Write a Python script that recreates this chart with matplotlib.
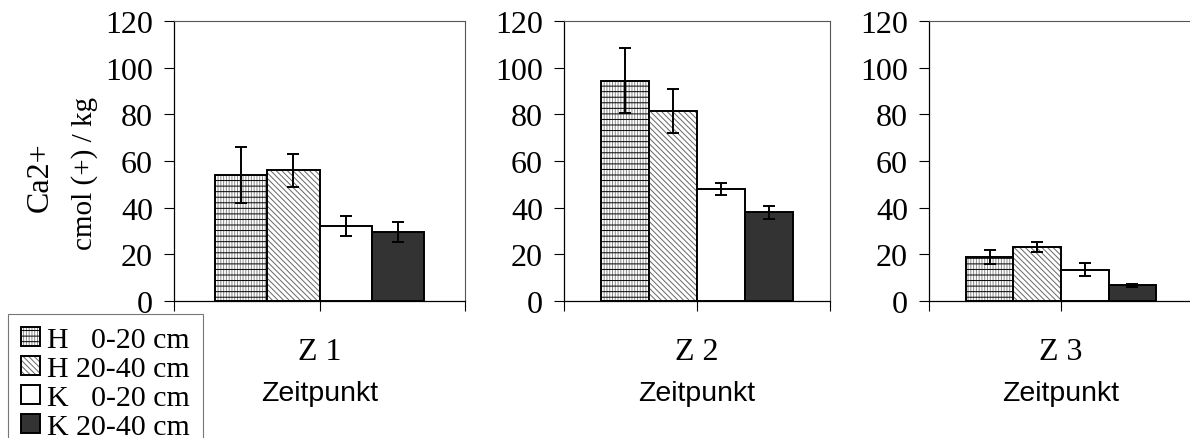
import numpy as np
import matplotlib
matplotlib.use("Agg")
import matplotlib.pyplot as plt
from matplotlib.legend_handler import HandlerTuple

zeitpunkte = ["Z 1", "Z 2", "Z 3"]
series_labels = ["H   0-20 cm", "H 20-40 cm", "K   0-20 cm", "K 20-40 cm"]

h_0_20 = [54.0, 94.5, 19.0]
h_0_20_err = [12.0, 14.0, 3.0]
h_20_40 = [56.0, 81.5, 23.0]
h_20_40_err = [7.0, 9.5, 2.2]
k_0_20 = [32.0, 48.0, 13.5]
k_0_20_err = [4.3, 2.7, 2.6]
k_20_40 = [29.4, 38.0, 6.8]
k_20_40_err = [4.3, 2.7, 0.6]

values = [h_0_20, h_20_40, k_0_20, k_20_40]
errors = [h_0_20_err, h_20_40_err, k_0_20_err, k_20_40_err]
colors = ["white", "white", "white", "#333333"]
# (underlay hatch, underlay hatch colour), then hatch drawn on top in black
under = [("|" * 6, "#888888"), ("\\" * 6, "#666666"), (None, None), (None, None)]
tops = ["-" * 3, None, None, None]

plt.rcParams["font.family"] = ["Liberation Serif", "DejaVu Serif"]
plt.rcParams["hatch.linewidth"] = 0.7
fs = 23

fig = plt.figure(figsize=(11.9, 4.39), dpi=100)
W, H = 1190, 439
panels = [(174, 291), (564, 266), (929, 264)]  # left px, width px
top_px, bottom_px = 22, 302

width = 0.18
offsets = (np.arange(4) - 1.5) * width
handles = []

for p, (left, w) in enumerate(panels):
    ax = fig.add_axes([left / W, 1 - bottom_px / H, w / W, (bottom_px - top_px) / H])
    for s in range(4):
        x = 0.5 + offsets[s]
        parts = []
        if under[s][0] is not None:
            b0 = ax.bar(x, values[s][p], width, color=colors[s], edgecolor=under[s][1],
                        linewidth=0, hatch=under[s][0], zorder=2)
            parts.append(b0[0])
        b1 = ax.bar(x, values[s][p], width, color="none" if parts else colors[s],
                    edgecolor="black", linewidth=1.4, hatch=tops[s], zorder=2)
        parts.append(b1[0])
        ax.errorbar(x, values[s][p], yerr=errors[s][p],
                    fmt="none", ecolor="black", elinewidth=1.4,
                    capsize=4.5, capthick=1.4, zorder=3)
        if p == 0:
            handles.append(tuple(parts))
    ax.set_xlim(0, 1)
    ax.set_ylim(0, 120)
    ax.set_yticks(np.arange(0, 121, 20))
    ax.set_xticks([0, 0.5, 1])
    ax.set_xticklabels(["", zeitpunkte[p], ""])
    ax.tick_params(axis="both", direction="out", length=7.2, width=0.8,
                   labelsize=fs, pad=8)
    ax.tick_params(axis="x", pad=19)
    ax.set_xlabel("Zeitpunkt", family=["Liberation Sans", "DejaVu Sans"],
                  fontsize=fs - 2.5, labelpad=10)
    for side in ["top", "right"]:
        ax.spines[side].set_color("#555555")
        ax.spines[side].set_linewidth(0.8)
    ax.spines["left"].set_linewidth(0.9)
    ax.spines["bottom"].set_linewidth(0.9)

fig.text(40 / W, 1 - 177 / H, "Ca2+", rotation=90, ha="center", va="center", fontsize=fs)
fig.text(85 / W, 1 - 174 / H, "cmol (+) / kg", rotation=90, ha="center", va="center",
         fontsize=fs - 2)

leg = fig.legend(handles, series_labels, loc="upper left", bbox_to_anchor=(8 / W, 1 - 315 / H),
                 handler_map={tuple: HandlerTuple(ndivide=1)},
                 borderaxespad=0, fontsize=fs - 1.5, frameon=True, fancybox=False,
                 handlelength=0.65, handleheight=0.65, handletextpad=0.25,
                 labelspacing=0.085, borderpad=0.42)
leg.get_frame().set_edgecolor("#555555")
leg.get_frame().set_linewidth(0.8)

fig.savefig("out.png", dpi=100)
